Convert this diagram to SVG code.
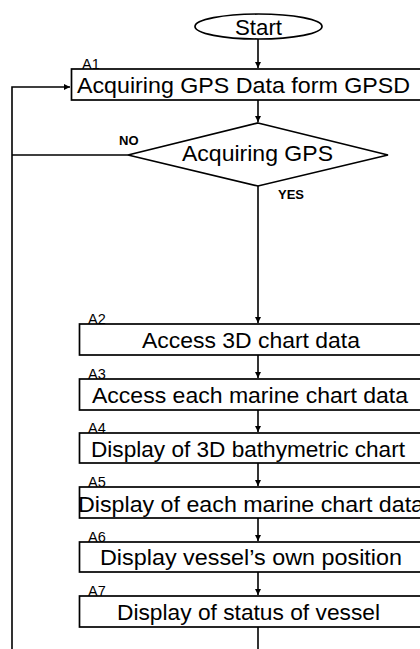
<svg xmlns="http://www.w3.org/2000/svg" width="420" height="649" viewBox="0 0 420 649">
<defs>
<marker id="ah" viewBox="0 0 10 10" refX="10" refY="5" markerWidth="6" markerHeight="7" markerUnits="userSpaceOnUse" orient="auto">
<path d="M0,0 L10,5 L0,10 z" fill="#000"/>
</marker>
<style>
.sh{fill:#fff;stroke:#000;stroke-width:1.7}
.t{font-family:"Liberation Sans",Arial,sans-serif;font-size:22.5px;fill:#000}
.lb{font-family:"Liberation Sans",Arial,sans-serif;font-size:14.5px;fill:#000}
.yn{font-family:"Liberation Sans",Arial,sans-serif;font-size:13px;font-weight:bold;fill:#000}
.c{fill:none;stroke:#000;stroke-width:1.6}
</style>
</defs>
<rect width="420" height="649" fill="#fff"/>
<g id="connectors">
<path class="c" d="M258,39 V68" marker-end="url(#ah)"/>
<path class="c" d="M258,100 V122" marker-end="url(#ah)"/>
<path class="c" d="M128,155 H12 M12,649 V87 H70" marker-end="url(#ah)"/>
<path class="c" d="M258,186 V323" marker-end="url(#ah)"/>
<path class="c" d="M258,355 V378" marker-end="url(#ah)"/>
<path class="c" d="M258,410 V432" marker-end="url(#ah)"/>
<path class="c" d="M258,463 V486" marker-end="url(#ah)"/>
<path class="c" d="M258,518 V541" marker-end="url(#ah)"/>
<path class="c" d="M258,572 V595" marker-end="url(#ah)"/>
<path class="c" d="M258,627 V649"/>
</g>
<g id="start">
<ellipse class="sh" cx="258.5" cy="26.5" rx="63.5" ry="12.5"/>
<text class="t" x="235" y="35" textLength="47" lengthAdjust="spacingAndGlyphs">Start</text>
</g>
<g id="A1">
<text class="lb" x="82" y="68.5">A1</text>
<rect class="sh" x="71.5" y="69" width="360" height="31"/>
<text class="t" x="77" y="93" textLength="333" lengthAdjust="spacingAndGlyphs">Acquiring GPS Data form GPSD</text>
</g>
<g id="decision">
<polygon class="sh" points="258,123 388,155 258,186 128,155"/>
<text class="t" x="182" y="161" textLength="151" lengthAdjust="spacingAndGlyphs">Acquiring GPS</text>
<text class="yn" x="119" y="145">NO</text>
<text class="yn" x="278" y="199">YES</text>
</g>
<g id="A2">
<text class="lb" x="88" y="323.5">A2</text>
<rect class="sh" x="79.5" y="324" width="350" height="31"/>
<text class="t" x="142" y="348" textLength="218" lengthAdjust="spacingAndGlyphs">Access 3D chart data</text>
</g>
<g id="A3">
<text class="lb" x="88" y="378.5">A3</text>
<rect class="sh" x="79.5" y="379" width="350" height="31"/>
<text class="t" x="92" y="403" textLength="316" lengthAdjust="spacingAndGlyphs">Access each marine chart data</text>
</g>
<g id="A4">
<text class="lb" x="88" y="432.5">A4</text>
<rect class="sh" x="79.5" y="433" width="350" height="30"/>
<text class="t" x="91" y="457" textLength="314" lengthAdjust="spacingAndGlyphs">Display of 3D bathymetric chart</text>
</g>
<g id="A5">
<text class="lb" x="88" y="486.5">A5</text>
<rect class="sh" x="79.5" y="487" width="350" height="31"/>
<text class="t" x="78" y="512" textLength="346" lengthAdjust="spacingAndGlyphs">Display of each marine chart data</text>
</g>
<g id="A6">
<text class="lb" x="88" y="541.5">A6</text>
<rect class="sh" x="79.5" y="542" width="350" height="30"/>
<text class="t" x="100" y="565" textLength="302" lengthAdjust="spacingAndGlyphs">Display vessel’s own position</text>
</g>
<g id="A7">
<text class="lb" x="88" y="595.5">A7</text>
<rect class="sh" x="79.5" y="596" width="350" height="31"/>
<text class="t" x="117" y="620" textLength="263" lengthAdjust="spacingAndGlyphs">Display of status of vessel</text>
</g>
</svg>
